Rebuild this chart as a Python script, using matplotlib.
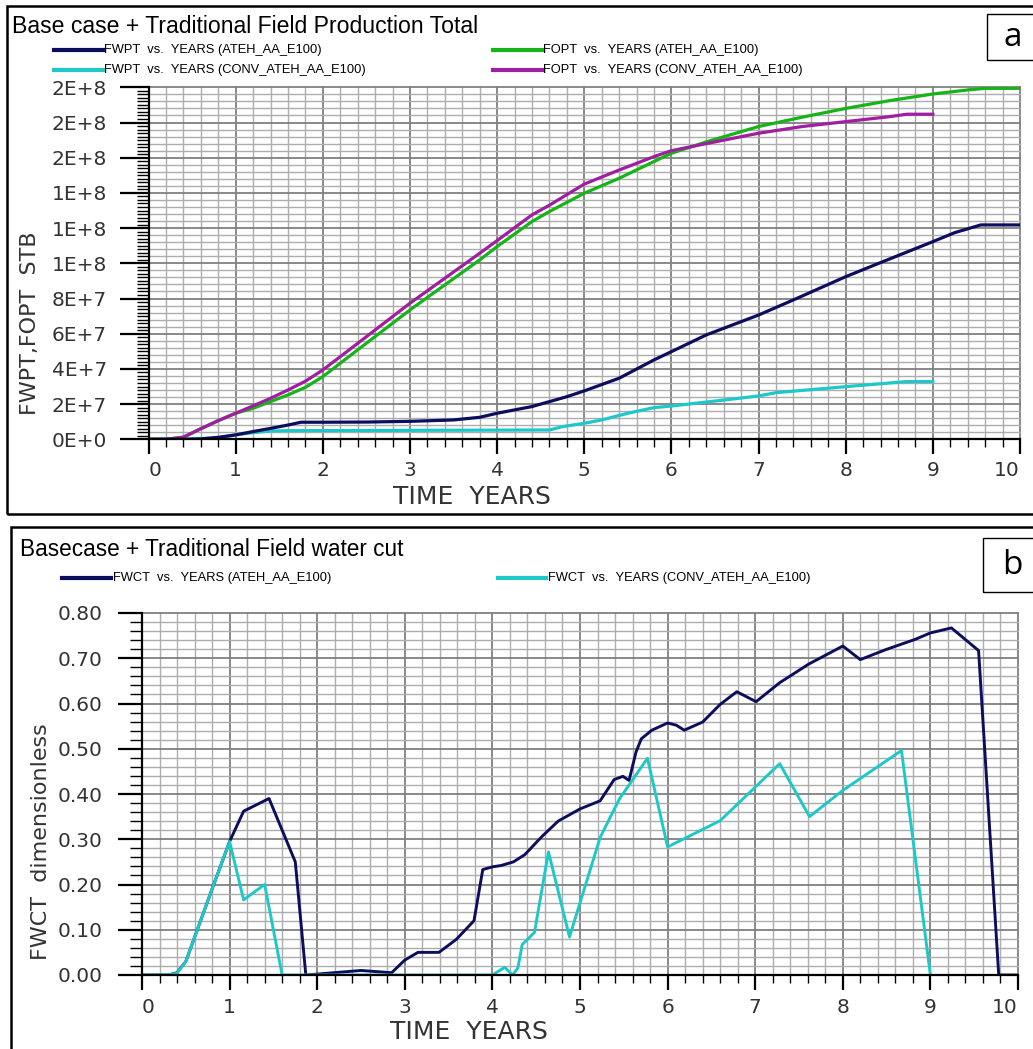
import numpy as np
import matplotlib
matplotlib.use('Agg')
import matplotlib.pyplot as plt
from matplotlib.patches import Rectangle
from matplotlib.lines import Line2D
from matplotlib.ticker import MultipleLocator

# ---- panel a: cumulative production (STB) ----
years_fopt = [0, 0.2, 0.4, 0.6, 0.8, 1.0, 1.2, 1.4, 1.6, 1.8, 2.0, 2.4, 2.8, 3.0, 3.4, 3.8,
              4.0, 4.4, 4.6, 5.0, 5.4, 5.8, 6.0, 6.4, 7.0, 7.5, 8.0, 8.5, 9.0, 9.4, 9.6, 10.0]
fopt_ateh = [0, 0, 1.2e6, 6.0e6, 10.6e6, 14.8e6, 17.6e6, 21.4e6, 25.2e6, 29.5e6, 35.6e6, 50.8e6,
             65.9e6, 73.5e6, 87.7e6, 101.9e6, 109.5e6, 123.7e6, 129.4e6, 139.8e6, 148.3e6,
             157.8e6, 162.5e6, 169e6, 177.7e6, 183e6, 188e6, 192.4e6, 196.2e6, 198.5e6, 199.4e6, 199.4e6]

years_fopt_conv = [0, 0.2, 0.4, 0.6, 0.8, 1.0, 1.2, 1.4, 1.6, 1.8, 2.0, 2.4, 2.8, 3.0, 3.4, 3.8,
                   4.0, 4.4, 4.6, 5.0, 5.4, 5.8, 6.0, 6.4, 7.0, 7.5, 8.0, 8.5, 8.7, 9.0]
fopt_conv = [0, 0, 1.2e6, 6.0e6, 10.6e6, 14.8e6, 19e6, 23.3e6, 28e6, 33e6, 39.4e6, 54.5e6, 69.7e6,
             77.3e6, 91.5e6, 105.7e6, 112.9e6, 127.5e6, 133e6, 145e6, 153e6, 160.6e6, 164e6,
             168e6, 173.9e6, 177.7e6, 180.5e6, 183.3e6, 184.7e6, 184.7e6]

years_fwpt = [0, 0.4, 0.6, 0.8, 1.0, 1.2, 1.4, 1.6, 1.75, 2.0, 2.5, 3.0, 3.5, 3.8, 4.0, 4.4, 4.8,
              5.0, 5.4, 5.8, 6.0, 6.4, 7.0, 7.4, 8.0, 8.4, 9.0, 9.25, 9.55, 10.0]
fwpt_ateh = [0, 0, 0.2e6, 1.1e6, 2.5e6, 4.4e6, 6.2e6, 8.1e6, 9.7e6, 9.7e6, 9.8e6, 10.2e6, 11e6,
             12.5e6, 14.8e6, 18.6e6, 24.2e6, 27.5e6, 34.7e6, 45.1e6, 49.8e6, 59.3e6, 70.6e6,
             79.2e6, 92.4e6, 100.4e6, 112.3e6, 117.4e6, 121.8e6, 121.8e6]

years_fwpt_conv = [0, 0.4, 0.8, 1.0, 1.2, 1.4, 1.6, 4.6, 4.75, 5.0, 5.2, 5.5, 5.8, 6.0, 6.6, 7.0,
                   7.2, 8.0, 8.7, 9.0]
fwpt_conv = [0, 0, 0.9e6, 2.5e6, 3.8e6, 4.7e6, 4.9e6, 5.3e6, 7.2e6, 9.1e6, 11e6, 14.8e6, 18e6,
             18.9e6, 22.3e6, 24.6e6, 26.5e6, 29.9e6, 32.8e6, 32.8e6]

top_yticks = [0, 2e7, 4e7, 6e7, 8e7, 1e8, 1.2e8, 1.4e8, 1.6e8, 1.8e8, 2e8]
top_ylabels = ['0E+0', '2E+7', '4E+7', '6E+7', '8E+7', '1E+8', '1E+8', '1E+8', '2E+8', '2E+8', '2E+8']

# ---- panel b: water cut ----
years_wct = [0, 0.3, 0.4, 0.5, 0.65, 0.8, 1.0, 1.16, 1.45, 1.75, 1.87, 2.0, 2.5, 2.85, 3.0, 3.15,
             3.39, 3.59, 3.79, 3.89, 4.0, 4.1, 4.24, 4.37, 4.56, 4.75, 5.0, 5.23, 5.39, 5.49, 5.56,
             5.64, 5.70, 5.82, 6.0, 6.10, 6.19, 6.40, 6.60, 6.79, 7.01, 7.28, 7.61, 8.0, 8.2, 8.49,
             8.83, 9.0, 9.24, 9.55, 9.78, 10.0]
fwct_ateh = [0, 0, 0.005, 0.03, 0.11, 0.19, 0.295, 0.362, 0.39, 0.25, 0.0, 0.002, 0.01, 0.005,
             0.033, 0.05, 0.05, 0.079, 0.12, 0.233, 0.239, 0.242, 0.25, 0.266, 0.305, 0.34, 0.367,
             0.385, 0.432, 0.439, 0.43, 0.493, 0.522, 0.541, 0.557, 0.552, 0.541, 0.559, 0.598,
             0.626, 0.604, 0.646, 0.687, 0.727, 0.697, 0.719, 0.742, 0.756, 0.767, 0.717, 0.0, 0.0]

years_wct_conv = [0, 0.3, 0.4, 0.5, 0.65, 0.8, 1.0, 1.16, 1.4, 1.6, 4.0, 4.14, 4.23, 4.29, 4.34,
                  4.48, 4.64, 4.88, 5.23, 5.45, 5.77, 6.0, 6.60, 7.28, 7.62, 8.0, 8.67, 9.0]
fwct_conv = [0, 0, 0.004, 0.03, 0.11, 0.19, 0.295, 0.166, 0.20, 0.0, 0.0, 0.017, 0.0, 0.015, 0.067,
             0.094, 0.272, 0.084, 0.304, 0.389, 0.479, 0.283, 0.341, 0.467, 0.35, 0.408, 0.496, 0.0]

bot_yticks = [0, 0.1, 0.2, 0.3, 0.4, 0.5, 0.6, 0.7, 0.8]
bot_ylabels = ['0.00', '0.10', '0.20', '0.30', '0.40', '0.50', '0.60', '0.70', '0.80']

x_ticks = list(range(0, 11))
x_labels = [str(i) for i in x_ticks]

NAVY = '#0d0d5e'
CYAN = '#1ec8c8'
GREEN = '#16b416'
PURPLE = '#a01ea0'
TXT = '#333333'

W, H = 1033, 1049
fig = plt.figure(figsize=(W / 100, H / 100), dpi=100)


def fx(px):
    return px / W


def fy(py):
    return 1 - py / H


def make_axes(x0, x1, y_top, y_bot):
    return fig.add_axes([fx(x0), fy(y_bot), fx(x1) - fx(x0), fy(y_top) - fy(y_bot)])


def draw_grid(ax, ymax, ystep_minor, ystep_major):
    for x in np.arange(0, 10.01, 0.2):
        major = abs(x - round(x)) < 1e-6
        ax.axvline(x, color='#808080' if major else '#adadad', lw=1.3 if major else 1.0,
                   zorder=0, clip_on=False)
    for y in np.arange(0, ymax * 1.0001, ystep_minor):
        major = abs(y / ystep_major - round(y / ystep_major)) < 1e-6
        ax.axhline(y, color='#808080' if major else '#adadad', lw=1.3 if major else 1.0,
                   zorder=0, clip_on=False)


def style_axes(ax, ymax, ymin_tick, ymaj_len, ylab_pad, xlab_pad):
    ax.set_xlim(0, 10)
    ax.set_ylim(0, ymax)
    for s in ['top', 'right']:
        ax.spines[s].set_visible(False)
    for s in ['left', 'bottom']:
        ax.spines[s].set_linewidth(1.6)
        ax.spines[s].set_zorder(5)
    ax.xaxis.set_minor_locator(MultipleLocator(0.2))
    ax.yaxis.set_minor_locator(MultipleLocator(ymin_tick))
    ax.tick_params(axis='y', which='major', length=ymaj_len, width=1.6, pad=ylab_pad,
                   labelsize=14.5, labelcolor=TXT)
    ax.tick_params(axis='y', which='minor', length=8.5, width=1.0)
    ax.tick_params(axis='x', which='major', length=11, width=1.6, pad=xlab_pad,
                   labelsize=14.5, labelcolor=TXT)
    ax.tick_params(axis='x', which='minor', length=6, width=1.0)
    ax.set_xticks(x_ticks)
    ax.set_xticklabels(x_labels)
    # end labels sit inside the axis span, as in the original
    lbls = ax.get_xticklabels()
    lbls[0].set_horizontalalignment('left')
    lbls[-1].set_horizontalalignment('right')


# ---------------- panel a ----------------
fig.add_artist(Rectangle((fx(7), fy(514)), fx(1045) - fx(7), fy(6) - fy(514), fill=False,
                         lw=1.8, ec='black', transform=fig.transFigure))
fig.add_artist(Rectangle((fx(987), fy(60)), fx(1045) - fx(987), fy(14) - fy(60), fill=False,
                         lw=1.0, ec='black', transform=fig.transFigure))
fig.text(fx(1013), fy(37), 'a', fontsize=24, family='Open Sans', ha='center', va='center')
fig.text(fx(12), fy(33), 'Base case + Traditional Field Production Total', fontsize=16.6,
         family='Liberation Sans', ha='left', va='baseline')

legend_a = [(NAVY, 'FWPT  vs.  YEARS (ATEH_AA_E100)', 54, 103, 50),
            (CYAN, 'FWPT  vs.  YEARS (CONV_ATEH_AA_E100)', 54, 103, 70),
            (GREEN, 'FOPT  vs.  YEARS (ATEH_AA_E100)', 493, 542, 50),
            (PURPLE, 'FOPT  vs.  YEARS (CONV_ATEH_AA_E100)', 493, 542, 70)]
for c, lab, x0, x1, y in legend_a:
    fig.add_artist(Line2D([fx(x0), fx(x1)], [fy(y), fy(y)], color=c, lw=3,
                          transform=fig.transFigure))
    fig.text(fx(x1 + 1), fy(y), lab, fontsize=9.3, family='Liberation Sans', ha='left',
             va='center')

ax1 = make_axes(148.5, 1020, 87.3, 439.3)
draw_grid(ax1, 2e8, 4e6, 2e7)
style_axes(ax1, 2e8, 2e6, 21, 9, 4.5)
ax1.set_yticks(top_yticks)
ax1.set_yticklabels(top_ylabels)
ax1.plot(years_fopt, fopt_ateh, color=GREEN, lw=2.3, zorder=3)
ax1.plot(years_fopt_conv, fopt_conv, color=PURPLE, lw=2.3, zorder=4)
ax1.plot(years_fwpt, fwpt_ateh, color=NAVY, lw=2.3, zorder=4)
ax1.plot(years_fwpt_conv, fwpt_conv, color=CYAN, lw=2.3, zorder=3)

fig.text(fx(472), fy(497), 'TIME  YEARS', fontsize=18, color=TXT, family='DejaVu Sans',
         ha='center', va='center')
fig.text(fx(30), fy(323), 'FWPT,FOPT  STB', fontsize=16, color=TXT, family='DejaVu Sans',
         ha='center', va='center', rotation=90)

# ---------------- panel b ----------------
fig.add_artist(Rectangle((fx(11), fy(1060)), fx(1045) - fx(11), fy(527) - fy(1060), fill=False,
                         lw=1.8, ec='black', transform=fig.transFigure))
fig.add_artist(Rectangle((fx(983), fy(592)), fx(1045) - fx(983), fy(538) - fy(592), fill=False,
                         lw=1.0, ec='black', transform=fig.transFigure))
fig.text(fx(1012), fy(565), 'b', fontsize=24, family='Open Sans', ha='center', va='center')
fig.text(fx(20), fy(556), 'Basecase + Traditional Field water cut', fontsize=16.3,
         family='Liberation Sans', ha='left', va='baseline')

legend_b = [(NAVY, 'FWCT  vs.  YEARS (ATEH_AA_E100)', 62, 111, 578),
            (CYAN, 'FWCT  vs.  YEARS (CONV_ATEH_AA_E100)', 498, 546, 578)]
for c, lab, x0, x1, y in legend_b:
    fig.add_artist(Line2D([fx(x0), fx(x1)], [fy(y), fy(y)], color=c, lw=3,
                          transform=fig.transFigure))
    fig.text(fx(x1 + 2), fy(y), lab, fontsize=9.3, family='Liberation Sans', ha='left',
             va='center')

ax2 = make_axes(142, 1018, 613, 975)
draw_grid(ax2, 0.8, 0.02, 0.1)
style_axes(ax2, 0.8, 0.02, 17, 11.5, 5.8)
ax2.set_yticks(bot_yticks)
ax2.set_yticklabels(bot_ylabels)
ax2.plot(years_wct, fwct_ateh, color=NAVY, lw=2.1, zorder=3)
ax2.plot(years_wct_conv, fwct_conv, color=CYAN, lw=2.1, zorder=4)

fig.text(fx(469), fy(1032), 'TIME  YEARS', fontsize=18, color=TXT, family='DejaVu Sans',
         ha='center', va='center')
fig.text(fx(41), fy(842), 'FWCT  dimensionless', fontsize=16, color=TXT, family='DejaVu Sans',
         ha='center', va='center', rotation=90)

fig.savefig('out.png', dpi=100)
